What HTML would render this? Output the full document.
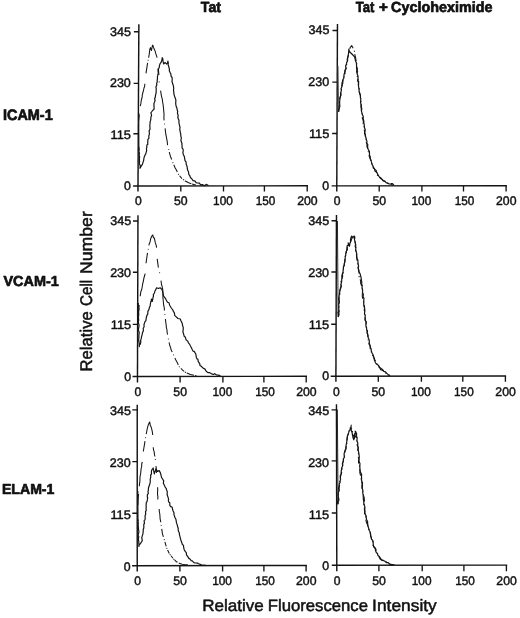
<!DOCTYPE html>
<html lang="en">
<head>
<meta charset="utf-8">
<title>Tat induced adhesion molecule expression</title>
<style>
html,body{margin:0;padding:0;background:#fff;}
body{width:520px;height:618px;overflow:hidden;}
svg{display:block;}
text{font-family:"Liberation Sans",sans-serif;fill:#111;stroke:#111;stroke-linejoin:round;text-rendering:geometricPrecision;}
.tk{font-size:12.8px;stroke-width:0.45;}
.lbl{font-size:16.5px;stroke-width:0.5;}
.b{font-weight:bold;font-size:14.6px;stroke-width:0.7;}
.ax{stroke:#141414;stroke-width:1.45;fill:none;stroke-linecap:butt;}
.tick{stroke:#141414;stroke-width:1.35;fill:none;}
.cs{stroke:#141414;stroke-width:1.2;fill:none;stroke-linejoin:round;stroke-linecap:round;}
.cd{stroke:#141414;stroke-width:1.05;fill:none;stroke-linejoin:round;stroke-linecap:butt;}
.cd2{stroke:#141414;stroke-width:1.05;fill:none;stroke-linejoin:round;stroke-dasharray:7 2.5 1.2 2.5;}
.sp{stroke:#141414;stroke-width:0.9;fill:none;}
</style>
</head>
<body>
<svg width="520" height="618" viewBox="0 0 520 618">
<rect x="0" y="0" width="520" height="618" fill="#ffffff"/>
<g>
<text class="b" transform="translate(200.85,12.25) scale(0.9641,1.0055)">Tat</text>
<text class="b" transform="translate(0,12.25) scale(1,1.0055)"><tspan x="355.75" textLength="18.56" lengthAdjust="spacingAndGlyphs">Tat</tspan> <tspan x="379.08" textLength="8.83" lengthAdjust="spacingAndGlyphs">+</tspan> <tspan x="391.10" textLength="101.31" lengthAdjust="spacingAndGlyphs">Cycloheximide</tspan></text>
<text class="b" transform="translate(2.95,120.05) scale(0.9896,1.0354)">ICAM-1</text>
<text class="b" transform="translate(3.45,285.90) scale(0.9882,0.9906)">VCAM-1</text>
<text class="b" transform="translate(1.97,493.90) scale(0.9648,0.9906)">ELAM-1</text>
<text class="lbl" transform="translate(0,611.45) scale(1,0.9998)"><tspan x="202.32" textLength="61.52" lengthAdjust="spacingAndGlyphs">Relative</tspan> <tspan x="267.75" textLength="100.18" lengthAdjust="spacingAndGlyphs">Fluorescence</tspan> <tspan x="372.14" textLength="64.61" lengthAdjust="spacingAndGlyphs">Intensity</tspan></text>
<text class="lbl" transform="translate(92.35,0) rotate(-90) scale(1,1.0218)"><tspan x="-371.56" textLength="60.38" lengthAdjust="spacingAndGlyphs">Relative</tspan> <tspan x="-306.06" textLength="26.22" lengthAdjust="spacingAndGlyphs">Cell</tspan> <tspan x="-274.13" textLength="62.97" lengthAdjust="spacingAndGlyphs">Number</tspan></text>
</g>
<g>
<path class="ax" d="M138.85,24.30 L137.96,191.50"/>
<path class="ax" d="M133.10,186.00 L308.00,185.80"/>
<path class="tick" d="M133.91,31.77 H138.81 M133.64,83.30 H138.54 M133.37,133.70 H138.27 M180.80,185.95 V191.50 M223.50,185.90 V191.50 M264.40,185.85 V191.50 M307.20,185.80 V191.50"/>
<text class="tk" transform="translate(110.03,35.78) scale(0.9810,0.9728)">345</text>
<text class="tk" transform="translate(109.94,87.38) scale(0.9761,0.9728)">230</text>
<text class="tk" transform="translate(110.52,138.98) scale(1.0033,0.9728)">115</text>
<text class="tk" transform="translate(123.94,190.08) scale(0.9609,0.9728)">0</text>
<text class="tk" transform="translate(135.00,205.03) scale(0.9453,0.9728)">0</text>
<text class="tk" transform="translate(174.04,205.03) scale(0.9579,0.9728)">50</text>
<text class="tk" transform="translate(213.08,205.03) scale(0.9265,0.9728)">100</text>
<text class="tk" transform="translate(255.69,205.03) scale(0.9166,0.9728)">150</text>
<text class="tk" transform="translate(297.15,205.03) scale(0.9566,0.9728)">200</text>
</g>
<g>
<path class="ax" d="M137.96,215.30 L137.46,382.40"/>
<path class="ax" d="M132.50,376.50 L307.00,376.30"/>
<path class="tick" d="M133.04,221.00 H137.94 M132.89,272.20 H137.79 M132.73,324.40 H137.63 M180.10,376.45 V382.40 M222.90,376.40 V382.40 M263.90,376.35 V382.40 M306.20,376.30 V382.40"/>
<text class="tk" transform="translate(110.23,225.18) scale(0.9810,0.9728)">345</text>
<text class="tk" transform="translate(110.14,277.18) scale(0.9761,0.9728)">230</text>
<text class="tk" transform="translate(110.72,329.18) scale(1.0033,0.9728)">115</text>
<text class="tk" transform="translate(124.14,380.88) scale(0.9609,0.9728)">0</text>
<text class="tk" transform="translate(134.50,395.88) scale(0.9453,0.9728)">0</text>
<text class="tk" transform="translate(173.34,395.88) scale(0.9579,0.9728)">50</text>
<text class="tk" transform="translate(212.48,395.88) scale(0.9265,0.9728)">100</text>
<text class="tk" transform="translate(255.19,395.88) scale(0.9166,0.9728)">150</text>
<text class="tk" transform="translate(296.15,395.88) scale(0.9566,0.9728)">200</text>
</g>
<g>
<path class="ax" d="M137.23,404.80 L137.23,571.40"/>
<path class="ax" d="M132.10,565.77 L306.90,565.50"/>
<path class="tick" d="M132.33,409.80 H137.23 M132.33,461.60 H137.23 M132.33,513.20 H137.23 M179.90,565.70 V571.40 M222.60,565.63 V571.40 M263.90,565.57 V571.40 M306.10,565.50 V571.40"/>
<text class="tk" transform="translate(109.93,414.98) scale(0.9810,0.9728)">345</text>
<text class="tk" transform="translate(109.84,466.98) scale(0.9761,0.9728)">230</text>
<text class="tk" transform="translate(110.42,518.98) scale(1.0033,0.9728)">115</text>
<text class="tk" transform="translate(123.84,570.78) scale(0.9609,0.9728)">0</text>
<text class="tk" transform="translate(134.20,585.08) scale(0.9453,0.9728)">0</text>
<text class="tk" transform="translate(173.14,585.08) scale(0.9579,0.9728)">50</text>
<text class="tk" transform="translate(212.18,585.08) scale(0.9265,0.9728)">100</text>
<text class="tk" transform="translate(255.19,585.08) scale(0.9166,0.9728)">150</text>
<text class="tk" transform="translate(296.05,585.08) scale(0.9566,0.9728)">200</text>
</g>
<g>
<path class="ax" d="M337.46,24.00 L336.77,191.50"/>
<path class="ax" d="M331.60,185.85 L506.90,185.65"/>
<path class="tick" d="M332.53,30.46 H337.43 M332.32,82.10 H337.22 M332.11,133.50 H337.01 M379.20,185.80 V191.50 M421.90,185.75 V191.50 M463.50,185.70 V191.50 M506.10,185.65 V191.50"/>
<text class="tk" transform="translate(308.43,34.43) scale(0.9810,0.9728)">345</text>
<text class="tk" transform="translate(308.34,86.48) scale(0.9761,0.9728)">230</text>
<text class="tk" transform="translate(308.92,138.18) scale(1.0033,0.9728)">115</text>
<text class="tk" transform="translate(322.34,189.88) scale(0.9609,0.9728)">0</text>
<text class="tk" transform="translate(333.80,205.03) scale(0.9453,0.9728)">0</text>
<text class="tk" transform="translate(372.44,205.03) scale(0.9579,0.9728)">50</text>
<text class="tk" transform="translate(411.48,205.03) scale(0.9265,0.9728)">100</text>
<text class="tk" transform="translate(454.79,205.03) scale(0.9166,0.9728)">150</text>
<text class="tk" transform="translate(496.05,205.03) scale(0.9566,0.9728)">200</text>
</g>
<g>
<path class="ax" d="M336.46,215.10 L335.90,381.80"/>
<path class="ax" d="M330.70,376.27 L506.10,376.00"/>
<path class="tick" d="M331.54,220.70 H336.44 M331.37,272.00 H336.27 M331.19,324.20 H336.09 M378.30,376.20 V381.80 M421.40,376.13 V381.80 M462.80,376.07 V381.80 M505.40,376.00 V381.80"/>
<text class="tk" transform="translate(308.28,224.98) scale(0.9810,0.9728)">345</text>
<text class="tk" transform="translate(308.19,276.98) scale(0.9761,0.9728)">230</text>
<text class="tk" transform="translate(308.77,328.98) scale(1.0033,0.9728)">115</text>
<text class="tk" transform="translate(322.19,380.48) scale(0.9609,0.9728)">0</text>
<text class="tk" transform="translate(332.90,395.88) scale(0.9453,0.9728)">0</text>
<text class="tk" transform="translate(371.54,395.88) scale(0.9579,0.9728)">50</text>
<text class="tk" transform="translate(410.98,395.88) scale(0.9265,0.9728)">100</text>
<text class="tk" transform="translate(454.09,395.88) scale(0.9166,0.9728)">150</text>
<text class="tk" transform="translate(495.35,395.88) scale(0.9566,0.9728)">200</text>
</g>
<g>
<path class="ax" d="M336.46,404.30 L336.80,571.20"/>
<path class="ax" d="M331.80,565.27 L507.20,565.10"/>
<path class="tick" d="M331.57,409.80 H336.47 M331.68,460.80 H336.58 M331.78,513.00 H336.68 M378.90,565.22 V571.20 M422.20,565.18 V571.20 M463.90,565.14 V571.20 M506.40,565.10 V571.20"/>
<text class="tk" transform="translate(308.23,414.98) scale(0.9810,0.9728)">345</text>
<text class="tk" transform="translate(308.14,466.58) scale(0.9761,0.9728)">230</text>
<text class="tk" transform="translate(308.72,518.58) scale(1.0033,0.9728)">115</text>
<text class="tk" transform="translate(322.14,570.28) scale(0.9609,0.9728)">0</text>
<text class="tk" transform="translate(333.80,585.08) scale(0.9453,0.9728)">0</text>
<text class="tk" transform="translate(372.14,585.08) scale(0.9579,0.9728)">50</text>
<text class="tk" transform="translate(411.78,585.08) scale(0.9265,0.9728)">100</text>
<text class="tk" transform="translate(455.19,585.08) scale(0.9166,0.9728)">150</text>
<text class="tk" transform="translate(496.35,585.08) scale(0.9566,0.9728)">200</text>
</g>
<g>
<path class="sp" d="M138.78,113.0 L138.99,148.0"/>
<path class="sp" d="M138.50,303.0 L138.64,321.0"/>
<path class="sp" d="M137.93,491.0 L138.13,521.0"/>
<path class="sp" style="stroke:#4a4a4a" d="M338.04,66.0 L338.70,111.0"/>
<path class="sp" d="M337.44,221.0 L338.12,316.5"/>
<path class="sp" d="M337.37,409.5 L338.06,504.0"/>
<path class="cd" d="M138.6,121.0 L138.9,118.0 L139.2,115.0 L139.3,114.5 M140.2,106.2 L140.8,103.9 L141.1,101.8 L141.4,99.5 L142.1,97.5 L142.3,94.9 L142.8,93.0 L143.4,90.6 L144.0,88.0 L144.6,86.3 L144.9,83.7 M146.0,73.3 L147.6,62.9 M148.0,60.7 L148.2,59.9 M148.6,57.7 L149.1,54.9 L149.5,52.0 L149.8,49.5 L150.4,47.6 L151.0,49.5 L151.5,50.5 L152.1,47.0 L152.7,44.9 M152.7,44.9 L153.5,47.5 L154.4,49.5 L155.2,51.4 L155.9,53.9 L157.1,57.7 M158.4,68.9 L158.9,75.0 M159.2,81.5 L159.2,81.9 L159.3,82.3 M160.6,90.6 L161.0,93.3 L161.5,96.3 L162.3,99.2 L162.6,101.8 L163.0,104.0 L163.3,106.4 L163.6,108.7 L163.7,110.9 L164.0,113.7 L164.0,115.9 L163.9,117.9 L164.1,120.4 M164.5,123.6 L164.6,124.4 M165.1,128.4 L165.4,131.0 L165.8,134.2 L166.3,136.7 L166.8,139.3 L167.3,142.2 L167.5,144.6 L167.6,145.1 M168.6,149.1 L168.8,149.9 M169.3,152.0 L169.6,153.3 L170.4,156.2 L171.7,159.5 M172.7,162.2 L173.1,163.0 M173.8,164.8 L175.2,168.0 L176.4,170.0 L177.3,172.0 M178.2,173.9 L178.3,174.0 L178.8,174.7 M179.6,175.7 L181.7,178.4 L182.0,178.6 M183.0,179.4 L184.1,180.2 M184.9,180.8 L185.2,181.0 L188.7,182.7 L191.3,183.7 M192.1,184.0 L194.7,184.8 M194.7,184.8 L196.0,185.2"/>
<path class="cd" d="M138.3,322.0 L138.6,319.4 L138.4,317.1 L138.8,314.3 L138.6,311.9 L139.1,309.7 L139.0,307.0 L139.2,305.0 M140.2,296.2 L140.5,293.9 L140.9,291.5 L141.7,289.5 L142.1,287.5 L142.4,285.5 L142.8,283.3 L143.4,281.0 L143.8,278.5 L144.5,276.0 L145.2,273.7 M146.0,263.3 L147.5,252.9 M148.1,249.6 L148.3,248.8 M148.9,245.5 L149.2,244.0 L150.1,241.7 L150.6,239.0 L151.6,236.5 L152.7,234.7 M152.7,234.7 L153.4,237.5 L154.4,238.2 L154.9,240.8 L155.4,242.9 L156.2,245.4 L156.6,247.7 M157.2,258.9 L158.4,267.6 M159.5,272.4 L159.6,272.8 L159.7,273.2 M161.0,280.6 L161.4,283.8 L162.0,286.2 L162.7,289.2 L162.9,291.8 L162.9,294.3 L162.9,297.4 L163.2,300.0 L163.4,302.7 L163.7,305.2 L164.3,307.8 L164.4,310.4 M164.9,314.3 L164.9,315.1 M165.4,319.0 L165.8,322.5 L166.2,325.2 L166.3,327.1 L167.0,330.0 L167.1,332.0 L167.5,334.6 M168.3,338.6 L168.5,339.4 M169.1,342.4 L169.6,345.0 L170.6,347.6 L171.2,350.0 L172.2,352.0 M173.4,354.6 L173.7,355.4 M174.9,358.0 L175.7,359.7 L177.2,362.4 L178.3,365.0 M179.0,366.4 L179.1,366.6 L179.7,367.2 M180.9,368.4 L182.6,370.1 L184.2,371.3 M184.9,371.8 L186.0,372.6 M186.8,373.0 L190.4,374.6 L194.0,375.2 M195.2,375.4 L196.4,375.6"/>
<path class="cd" d="M137.9,505.0 L138.0,502.2 L138.0,500.3 L138.2,497.6 L138.5,495.0 L138.6,494.0 M139.3,486.2 L139.5,483.9 L139.9,481.1 L139.9,478.9 L140.1,476.1 L140.6,474.0 L140.9,471.1 L141.1,468.8 L141.7,466.3 L141.7,464.0 L142.3,461.9 M143.3,451.5 L145.0,441.2 M145.5,438.2 L145.7,437.4 M146.2,434.2 L146.8,431.0 L147.3,428.4 L148.0,425.6 L148.8,423.8 L149.7,421.8 M149.7,421.8 L150.3,425.5 L150.9,426.4 L151.6,428.7 L152.3,431.6 L152.7,435.0 M153.2,447.2 L153.5,449.8 L154.2,451.9 L154.4,454.1 L154.9,456.5 M155.4,459.1 L155.4,459.3 L155.5,459.9 M156.0,466.0 L156.1,467.0 L156.4,470.1 L156.4,473.0 M157.6,487.2 L157.7,489.6 L157.6,491.5 L157.5,494.4 L157.9,496.7 L157.8,498.7 L157.9,499.5 M159.2,509.0 L159.3,511.5 L159.8,514.0 L160.0,516.7 L160.1,518.8 L160.6,521.2 L160.7,522.2 M161.1,525.1 L161.3,525.9 M161.7,528.8 L162.1,531.3 L162.3,533.3 L163.4,536.8 M164.1,539.3 L164.4,540.1 M164.9,541.9 L166.2,546.3 M166.7,547.9 L167.0,548.7 M167.6,550.0 L169.3,553.5 M169.8,554.3 L170.5,555.1 M171.0,555.7 L172.9,558.2 M173.5,558.8 L174.3,559.6 M174.6,559.9 L176.5,561.8 L177.5,562.3 M178.8,563.0 L180.0,563.6 L182.2,564.2 L184.3,564.6 L188.0,565.1"/>
<path class="cs" d="M138.9,147.3 L139.3,149.8 L138.9,151.2 L139.5,153.4 L139.1,155.1 L139.6,156.5 L139.5,158.0 L139.4,160.0 L139.6,161.8 L139.2,163.6 L140.3,165.6 L140.1,166.5 L140.0,168.3 L141.5,165.8 L142.5,164.1 L142.9,162.6 L143.7,160.2 L143.8,159.0 L144.2,157.1 L145.2,154.8 L145.9,153.6 L146.2,152.0 L146.6,151.1 L146.5,148.0 L146.8,147.5 L146.9,145.0 L147.9,144.3 L147.7,143.1 L147.8,141.1 L148.0,139.1 L148.9,138.3 L148.8,136.0 L149.4,134.1 L149.3,132.2 L149.0,130.8 L149.9,129.7 L150.0,128.1 L149.8,125.0 L150.1,123.5 L150.1,122.0 L150.6,120.4 L150.9,118.7 L150.8,117.6 L151.6,115.3 L150.9,112.9 L151.5,112.0 L153.0,110.0 L153.8,109.6 L154.2,108.0 L154.0,106.6 L153.9,103.8 L154.6,101.9 L155.1,100.5 L154.6,98.5 L155.3,97.4 L155.4,95.8 L155.7,94.3 L156.1,93.1 L156.2,90.1 L156.2,88.3 L155.9,87.1 L156.8,84.9 L156.6,83.4 L157.2,82.0 L157.2,80.2 L157.5,78.7 L157.4,76.9 L158.1,73.8 L158.3,73.0 L158.0,70.7 L158.1,68.9 L159.2,67.9 L159.4,65.6 L160.1,63.7 L161.2,62.2 L162.0,59.6 L162.2,57.7 L162.8,58.8 L163.0,61.0 L163.6,64.0 L165.2,62.5 L166.4,64.0 L167.4,63.1 L167.9,61.1 L168.3,63.1 L168.1,65.0 L168.6,66.0 L169.4,69.2 L169.3,70.7 L170.1,72.6 L170.8,73.6 L171.1,76.4 L172.1,77.5 L172.2,79.8 L172.0,81.5 L172.7,83.8 L172.9,84.4 L173.5,86.2 L173.7,88.2 L173.5,91.0 L173.9,92.3 L173.8,93.4 L174.5,96.1 L175.1,97.8 L175.6,99.2 L175.9,100.3 L175.7,102.7 L175.8,104.5 L176.2,106.5 L176.9,107.9 L177.1,109.6 L177.7,111.5 L177.4,113.0 L178.2,115.7 L177.8,117.5 L178.3,118.7 L179.0,120.5 L178.9,121.6 L179.1,123.9 L179.4,124.8 L180.0,127.4 L179.7,129.6 L180.1,130.8 L180.3,132.5 L180.7,133.5 L180.8,135.8 L181.4,138.4 L181.0,139.4 L181.0,141.0 L182.0,143.5 L181.9,144.3 L182.1,146.3 L182.1,148.2 L183.1,149.2 L183.2,150.7 L182.9,152.8 L183.5,155.0 L184.3,156.4 L184.7,158.7 L185.0,160.6 L186.1,161.9 L186.1,163.7 L186.5,164.9 L187.2,167.0 L187.3,168.7 L187.8,170.6 L188.5,171.7 L188.8,174.3 L189.9,175.8 L190.4,177.5 L192.1,179.2 L193.0,180.6 L194.8,180.9 L196.1,182.7 L197.3,183.0 L199.4,183.2 L200.6,184.8 L202.5,184.6 L204.0,185.7 L206.6,184.4 L208.0,185.3"/>
<path class="cs" d="M138.6,320.0 L138.4,322.0 L138.4,322.6 L139.0,324.8 L139.0,325.9 L138.6,328.5 L138.3,329.3 L139.0,332.2 L139.3,332.4 L138.9,335.2 L138.9,336.7 L138.9,338.0 L138.7,339.0 L138.7,340.7 L139.2,343.2 L139.3,344.3 L139.3,346.6 L139.4,344.5 L140.4,344.2 L140.9,341.0 L140.4,340.9 L141.2,338.9 L141.5,336.8 L142.0,335.1 L142.5,332.8 L142.8,332.0 L143.4,330.9 L143.2,328.5 L144.1,326.7 L144.0,324.6 L144.6,322.6 L145.0,321.7 L145.9,320.6 L146.1,319.1 L146.5,316.7 L147.0,315.2 L147.8,314.1 L147.8,312.0 L148.0,311.1 L149.0,309.3 L149.5,307.1 L150.1,306.3 L150.3,304.5 L150.6,302.5 L151.3,300.6 L151.4,299.0 L152.2,301.5 L152.8,299.1 L152.8,298.1 L153.4,296.5 L153.4,294.4 L154.5,293.0 L154.9,291.0 L155.5,290.2 L156.6,287.8 L158.4,288.5 L160.1,287.8 L161.8,289.2 L162.4,290.7 L162.9,292.8 L163.2,294.3 L163.6,296.2 L165.4,298.3 L166.2,300.0 L167.5,302.2 L169.0,302.7 L169.6,305.2 L170.9,307.3 L171.7,308.5 L173.1,310.4 L173.3,311.4 L174.3,312.7 L174.8,315.6 L175.7,316.4 L178.0,318.5 L180.3,319.0 L180.9,320.8 L181.9,322.6 L182.5,324.5 L182.6,326.0 L183.2,327.0 L183.2,329.9 L182.9,331.9 L183.2,332.8 L183.8,334.6 L184.2,336.3 L185.4,337.3 L186.1,339.8 L187.7,341.1 L188.4,342.8 L189.5,344.1 L190.2,345.5 L191.4,347.7 L192.1,349.3 L193.0,351.1 L194.2,351.4 L195.6,353.7 L195.9,354.5 L196.3,357.2 L197.0,359.0 L197.9,359.1 L198.2,361.4 L199.8,363.9 L200.0,365.6 L201.6,366.6 L203.0,368.0 L205.0,369.1 L206.0,371.0 L207.8,372.6 L209.7,372.7 L211.2,373.6 L213.4,374.5 L214.7,373.7 L216.3,374.8 L218.3,375.2 L220.0,375.7"/>
<path class="cs" d="M138.2,520.0 L137.9,520.9 L138.3,522.6 L138.2,525.2 L138.3,526.1 L138.4,528.0 L138.6,529.9 L138.9,532.2 L138.7,532.6 L138.1,535.4 L138.8,536.6 L138.5,538.0 L138.4,539.3 L138.8,541.5 L138.8,543.3 L139.0,544.3 L138.8,546.5 L139.3,544.5 L140.2,543.9 L141.6,541.7 L142.3,540.6 L141.7,537.4 L142.2,536.2 L142.9,533.9 L143.1,532.1 L143.3,531.0 L143.1,529.7 L143.8,528.0 L143.8,526.1 L143.8,524.2 L144.5,523.5 L144.1,520.6 L145.0,519.9 L145.2,517.5 L145.0,516.0 L145.6,514.6 L145.7,514.0 L145.5,511.6 L146.2,510.6 L146.1,508.3 L146.2,506.4 L146.1,505.6 L146.3,502.6 L147.0,501.7 L147.4,499.7 L147.7,497.7 L147.3,497.0 L147.4,494.7 L148.3,493.7 L148.0,491.2 L148.3,490.5 L148.5,487.8 L148.9,486.8 L149.4,485.0 L150.0,483.7 L150.3,481.0 L150.2,479.2 L150.8,476.9 L150.6,475.1 L151.5,474.0 L151.4,471.4 L152.0,469.5 L153.2,468.0 L153.5,469.8 L153.9,471.8 L154.4,474.0 L154.6,472.4 L155.6,470.6 L155.8,468.8 L157.5,471.4 L159.2,470.6 L160.4,472.9 L161.0,475.0 L161.5,477.5 L162.7,479.2 L163.7,480.9 L163.3,483.3 L164.4,485.3 L165.1,487.0 L166.3,488.7 L166.5,490.0 L167.2,491.0 L167.2,493.9 L167.1,494.5 L167.9,496.9 L168.6,499.2 L168.3,500.3 L168.8,502.1 L169.8,502.8 L169.8,505.3 L170.5,506.4 L172.2,507.3 L172.6,509.5 L172.9,510.5 L174.0,512.8 L173.9,514.2 L174.4,516.0 L175.2,518.0 L175.9,519.3 L176.3,521.4 L176.5,522.9 L177.3,525.1 L177.7,527.0 L178.2,528.3 L178.2,530.1 L178.6,531.5 L179.4,533.1 L179.4,534.4 L180.2,537.6 L180.3,537.9 L180.9,540.2 L181.5,541.8 L182.4,544.5 L183.5,545.4 L183.6,547.1 L184.2,549.7 L185.2,551.4 L186.3,552.6 L186.5,554.8 L187.8,556.6 L189.0,558.6 L189.6,558.6 L191.2,560.6 L192.3,560.9 L193.9,562.6 L195.6,563.0 L197.4,563.1 L198.7,563.7 L200.8,564.6 L202.6,565.3 L205.0,565.2"/>
<path class="cs" d="M338.7,111.2 L338.7,109.6 L339.4,107.7 L339.0,106.7 L339.8,104.1 L339.6,103.4 L339.7,100.4 L339.9,99.2 L339.7,98.2 L340.7,95.5 L340.7,94.0 L340.7,93.1 L341.4,90.1 L341.0,88.8 L341.6,87.6 L342.2,85.5 L341.9,83.0 L342.5,81.9 L342.8,79.8 L343.7,78.5 L343.9,77.5 L344.0,75.0 L344.3,73.7 L345.1,71.5 L344.9,70.3 L346.1,68.6 L345.6,65.9 L346.5,63.9 L346.6,62.8 L347.4,61.3 L347.2,59.4 L347.8,57.3 L348.1,55.8 L348.5,53.5 L348.7,52.0 L348.7,50.8 L348.9,49.0 L349.3,51.3 L350.3,52.5 L352.4,54.5 L354.6,56.8 L355.0,58.5 L355.4,60.5 L356.4,62.9 L356.5,65.0 L356.6,66.7 L356.5,67.9 L357.0,70.6 L357.6,71.8 L356.9,73.1 L357.6,75.0 L358.0,76.3 L358.0,78.4 L357.6,81.0 L358.6,81.4 L358.6,83.3 L358.5,85.4 L358.6,86.8 L359.0,88.8 L359.1,90.8 L359.2,91.8 L360.0,93.7 L360.4,95.9 L360.4,97.2 L360.8,98.6 L360.7,101.0 L360.5,102.1 L361.2,105.0 L360.9,106.2 L361.8,108.4 L361.6,110.0 L361.5,111.3 L361.9,112.8 L362.4,114.5 L363.3,116.8 L363.2,118.9 L363.8,120.9 L363.8,122.1 L363.9,123.5 L364.2,124.7 L364.4,127.6 L365.2,129.5 L365.1,131.0 L364.7,132.2 L365.3,134.5 L365.3,135.8 L365.9,137.7 L366.3,139.9 L367.0,141.3 L366.7,143.3 L367.8,144.7 L367.6,146.3 L367.8,148.4 L368.5,149.8 L369.4,151.6 L369.5,153.8 L369.4,155.7 L370.3,156.2 L370.1,158.0 L371.1,160.5 L371.4,161.9 L372.0,164.4 L372.8,165.3 L373.3,167.9 L374.5,168.8 L375.0,171.0 L376.3,172.0 L377.2,173.0 L378.0,174.9 L379.7,177.5 L380.6,178.4 L382.4,179.4 L383.1,180.7 L384.9,181.0 L386.1,182.7 L387.5,183.1 L389.2,184.0 L391.3,184.1 L392.7,185.2"/>
<path class="cs" d="M338.3,316.5 L338.4,314.0 L338.0,312.4 L339.0,311.9 L338.8,309.1 L338.7,307.6 L338.9,306.2 L338.7,304.1 L339.2,301.2 L338.7,300.1 L338.7,298.2 L339.1,296.5 L339.4,294.2 L339.6,292.6 L339.9,291.0 L340.3,288.8 L340.6,287.2 L341.1,286.3 L340.9,284.2 L341.3,283.0 L341.7,281.4 L341.7,279.2 L342.0,278.3 L342.6,276.4 L342.4,273.9 L342.9,273.0 L343.1,270.6 L343.3,269.6 L343.5,266.4 L344.2,266.1 L344.2,263.7 L344.8,262.1 L345.1,259.9 L345.3,257.8 L345.1,256.7 L345.8,254.8 L345.7,253.6 L346.5,251.1 L346.8,249.8 L347.0,247.9 L347.2,245.6 L348.3,245.4 L348.2,242.9 L349.0,245.2 L349.4,246.3 L349.7,245.1 L349.9,243.3 L350.6,241.8 L350.5,239.9 L350.9,237.8 L351.7,236.0 L352.9,238.0 L354.1,236.0 L354.8,236.9 L354.4,239.1 L354.7,240.4 L355.2,242.9 L355.8,245.2 L355.5,246.1 L355.9,247.3 L355.6,250.5 L356.1,251.5 L356.9,254.1 L356.7,254.5 L356.9,256.7 L357.0,259.2 L357.8,259.7 L358.0,261.7 L357.9,263.1 L358.6,266.2 L358.2,267.4 L358.4,269.5 L359.0,270.6 L359.0,271.7 L360.1,273.7 L360.7,276.4 L361.0,276.9 L361.4,280.0 L361.6,281.0 L361.7,282.0 L361.7,284.1 L362.3,285.6 L362.0,287.4 L362.6,290.1 L362.5,291.6 L362.8,293.0 L363.4,294.9 L363.0,296.2 L364.0,298.5 L363.8,300.0 L363.7,302.0 L363.7,304.4 L364.2,305.4 L364.4,307.1 L364.6,308.1 L364.8,310.2 L364.6,312.8 L364.5,313.7 L365.3,315.4 L365.0,317.6 L365.0,319.9 L365.5,321.0 L366.2,321.9 L365.9,324.9 L366.1,326.9 L366.5,327.3 L366.7,329.6 L367.1,331.6 L367.2,333.3 L368.0,334.8 L368.0,337.1 L368.5,338.3 L369.1,339.5 L369.3,341.2 L369.3,343.5 L369.9,344.8 L370.3,347.4 L371.2,349.1 L371.2,350.3 L371.7,352.2 L372.5,353.8 L373.1,354.8 L373.8,357.6 L374.3,359.7 L374.5,360.2 L375.4,362.5 L376.1,363.7 L377.7,364.7 L378.9,366.0 L379.8,367.9 L380.7,369.6 L382.3,370.3 L383.8,371.3 L385.5,371.8 L386.7,373.2 L387.6,374.1 L389.2,375.6"/>
<path class="cs" d="M337.9,503.7 L337.6,501.7 L338.3,500.4 L338.0,498.8 L338.4,497.0 L338.1,495.8 L338.3,493.1 L338.4,492.1 L339.2,490.5 L338.5,488.1 L339.1,486.5 L339.2,484.3 L340.1,482.3 L339.9,481.8 L340.6,479.0 L340.4,478.3 L340.2,475.7 L341.3,473.8 L341.1,472.3 L341.4,470.2 L341.7,469.2 L341.5,468.3 L342.6,466.1 L342.4,463.6 L343.0,461.9 L343.2,461.3 L343.4,458.6 L344.4,457.3 L344.2,455.4 L344.1,453.5 L345.0,451.2 L345.0,450.5 L345.9,448.6 L346.2,446.6 L346.0,445.6 L346.4,443.7 L346.8,441.5 L346.9,439.5 L347.2,438.1 L347.5,435.8 L347.9,434.6 L348.6,432.9 L349.0,431.1 L350.2,429.7 L350.3,427.7 L351.2,428.9 L351.2,430.4 L352.1,432.6 L352.4,434.6 L352.6,435.5 L353.0,437.7 L353.8,439.8 L354.0,438.8 L354.6,436.0 L354.5,434.1 L355.4,432.7 L355.2,431.2 L356.0,433.3 L356.6,433.8 L356.5,436.1 L357.2,438.0 L356.9,440.4 L357.4,441.9 L357.7,442.5 L357.8,444.5 L357.6,446.1 L358.3,447.6 L358.2,450.0 L358.6,451.9 L358.8,453.0 L359.1,455.0 L359.3,457.4 L358.8,458.3 L359.1,460.9 L359.4,462.1 L360.0,463.6 L359.8,465.8 L359.8,467.3 L360.0,468.5 L360.1,471.2 L360.9,473.2 L361.6,474.1 L361.5,476.9 L361.6,477.9 L361.5,480.0 L362.1,482.1 L362.5,482.6 L362.4,484.1 L362.4,486.4 L362.2,488.1 L362.8,490.0 L362.8,491.8 L362.8,493.0 L363.2,495.4 L363.3,497.1 L363.3,499.1 L363.5,499.9 L363.8,502.2 L363.8,504.2 L364.6,505.9 L364.8,506.7 L364.7,509.0 L365.0,511.0 L364.9,512.6 L365.3,514.4 L366.2,516.1 L366.3,517.5 L366.4,519.4 L367.6,521.5 L367.6,523.1 L367.8,525.1 L368.1,526.5 L369.0,529.1 L369.2,530.2 L370.2,532.2 L370.2,533.5 L370.8,535.4 L371.1,536.8 L371.5,539.2 L372.6,540.2 L373.1,541.3 L373.2,543.8 L373.4,545.6 L374.2,547.0 L375.5,548.4 L375.4,550.3 L376.3,552.5 L377.6,553.6 L377.9,555.6 L379.4,556.6 L380.6,558.6 L382.0,559.7 L383.5,560.5 L384.9,561.2 L386.4,562.6 L388.2,562.6 L389.2,563.7 L391.2,565.0 L393.6,565.0"/>
<path class="cd2" d="M338.7,112.0 L338.7,110.2 L339.4,108.1 L340.0,106.2 L339.1,103.6 L339.8,101.4 L339.9,98.8 L340.3,97.0 L341.0,95.1 L340.7,92.5 L341.2,90.4 L341.8,88.3 L341.5,86.2 L342.0,85.4 L342.9,83.0 L342.8,80.7 L344.1,78.6 L343.7,77.2 L345.1,73.5 L344.6,72.2 L345.4,70.0 L346.2,67.8 L346.4,65.6 L346.8,63.7 L346.6,62.5 L347.7,60.6 L347.6,58.0 L348.2,55.9 L348.9,54.2 L349.6,52.5 L349.6,50.0 L350.1,47.6 L351.7,45.6 L353.2,48.5 L354.6,51.6 L355.2,53.2 L354.9,54.9 L355.8,58.7 L356.0,60.0 L356.9,61.5 L356.7,64.2 L356.8,66.3 L357.5,69.5 L356.5,71.2 L357.3,73.0 L357.0,74.2 L357.4,77.4 L358.6,78.3 L357.9,80.1 L358.4,83.0 L358.3,84.7 L358.7,87.0 L359.4,89.8 L359.0,91.1 L359.7,94.0 L360.5,95.5 L360.4,97.9 L360.4,100.0 L361.0,101.4 L360.3,103.3 L361.5,105.6 L361.1,107.3 L361.3,110.0 L361.4,111.2 L362.1,113.4 L362.5,115.6 L362.3,118.0 L362.9,119.7 L363.4,122.1 L363.1,123.4 L364.5,126.0 L363.7,127.9 L364.6,131.5 L364.5,133.4 L365.2,134.7 L365.5,137.0 L366.4,139.1 L365.7,141.6 L367.0,144.0 L366.9,146.8 L368.2,149.1 L368.1,150.5 L368.6,153.2 L369.6,154.1 L369.2,156.2 L369.9,158.1 L371.0,161.0 L371.8,163.6 L372.7,165.3 L373.2,166.9 L374.9,169.5 L376.4,170.6 L376.7,174.1 L377.6,175.5 L379.7,177.2 L381.0,178.0 L382.6,180.3 L384.5,181.5 L387.5,183.0 L389.6,183.5 L392.5,183.6 L394.0,185.2"/>
<path class="cd2" d="M338.3,317.0 L339.1,314.6 L338.8,312.2 L339.2,309.5 L338.9,307.7 L338.9,306.0 L338.9,303.6 L339.4,302.2 L339.1,299.6 L339.3,296.8 L339.6,295.0 L340.5,292.6 L339.7,290.5 L340.9,288.1 L341.2,286.6 L341.4,283.8 L340.9,281.6 L341.6,280.0 L342.1,278.0 L341.7,276.0 L342.6,273.7 L343.1,272.8 L343.0,270.7 L343.5,268.5 L343.5,266.9 L344.3,264.8 L344.7,262.0 L344.7,259.8 L345.7,257.4 L345.5,256.3 L346.8,253.7 L346.0,251.7 L347.5,249.4 L347.2,248.0 L348.2,245.5 L348.8,243.5 L350.0,244.0 L350.9,241.0 L351.5,239.7 L352.0,236.5 L353.3,237.0 L354.5,237.5 L355.3,239.9 L355.2,242.0 L355.5,244.0 L355.1,246.8 L356.1,248.2 L356.2,250.4 L356.0,252.2 L356.5,255.0 L356.5,257.0 L356.8,258.2 L357.3,260.9 L357.5,263.2 L358.3,264.4 L358.0,267.9 L358.6,268.7 L358.6,271.0 L359.3,273.9 L359.1,275.7 L359.1,277.9 L359.9,278.5 L360.7,281.3 L360.6,283.0 L361.6,285.8 L361.7,287.4 L362.3,288.8 L362.5,292.2 L362.3,294.0 L362.3,296.9 L362.9,298.7 L363.3,301.0 L364.2,302.8 L363.9,305.9 L364.6,308.0 L364.1,310.1 L365.2,312.0 L364.6,314.5 L365.6,316.5 L365.3,318.7 L365.3,320.0 L366.1,321.6 L366.0,323.7 L365.9,326.3 L367.5,329.4 L367.4,331.0 L367.2,332.6 L367.8,336.0 L368.5,338.3 L368.0,340.7 L368.9,342.0 L369.0,344.3 L370.5,346.6 L370.1,348.6 L370.9,349.5 L371.3,352.1 L372.1,354.5 L373.5,356.4 L374.7,359.5 L375.8,361.5 L376.7,363.5 L378.5,366.8 L380.9,368.1 L382.7,369.6 L384.0,370.9 L386.3,373.6 L388.8,374.8 L390.0,375.6"/>
<path class="cd2" d="M337.9,504.5 L337.9,501.8 L338.9,500.6 L338.8,497.9 L338.6,496.0 L338.5,493.7 L338.5,492.0 L339.0,490.3 L339.2,487.5 L339.5,485.5 L339.8,484.1 L339.9,481.5 L340.1,479.2 L340.5,477.5 L340.8,475.3 L341.7,472.4 L342.4,470.2 L342.1,468.2 L342.8,466.4 L342.7,463.4 L343.1,461.7 L343.4,460.9 L343.6,458.4 L344.5,455.6 L344.6,454.0 L344.9,451.1 L346.0,449.1 L345.8,447.0 L346.8,445.6 L346.9,442.8 L347.2,440.5 L347.1,439.0 L347.5,435.8 L348.4,434.2 L349.0,431.5 L350.0,429.1 L351.0,428.0 L351.2,425.0 L350.9,427.2 L351.9,428.8 L352.3,430.7 L352.7,433.0 L353.6,435.9 L354.1,438.5 L355.1,437.4 L355.5,434.3 L355.7,432.8 L355.6,430.5 L356.2,433.5 L355.7,434.7 L356.5,437.2 L357.0,439.0 L356.8,442.1 L357.0,443.3 L357.2,445.6 L358.2,447.3 L357.6,450.5 L358.3,452.5 L358.6,454.9 L358.3,457.1 L359.1,459.0 L358.5,460.4 L358.5,463.1 L360.0,465.2 L359.5,466.5 L359.1,468.2 L360.1,470.6 L359.8,473.0 L360.4,474.5 L360.4,476.6 L361.2,478.5 L360.9,479.8 L361.7,482.1 L362.2,484.0 L361.9,485.7 L361.9,488.4 L362.5,490.5 L363.1,493.2 L363.6,496.0 L364.2,497.5 L364.4,499.8 L364.7,502.7 L364.0,505.1 L364.8,507.9 L364.3,508.4 L364.6,511.5 L364.5,514.2 L365.8,516.0 L365.4,517.8 L365.7,519.1 L366.5,522.8 L367.2,524.0 L368.3,526.9 L368.3,528.3 L369.2,530.3 L370.6,533.0 L370.5,536.1 L371.2,537.6 L372.1,540.6 L373.0,542.3 L372.8,544.5 L373.8,547.1 L374.6,547.9 L376.1,549.7 L376.7,552.0 L377.4,553.7 L378.4,555.3 L379.2,557.3 L380.2,559.2 L382.1,560.6 L385.3,560.8 L386.8,562.5 L389.6,564.0 L392.1,564.4 L394.5,565.1"/>
</g>
</svg>
</body>
</html>
